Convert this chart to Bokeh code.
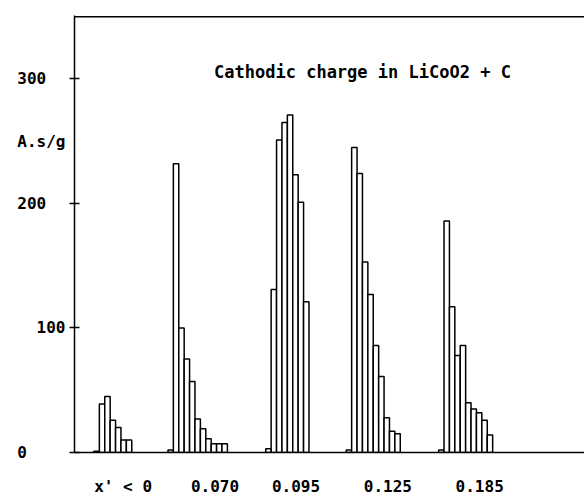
from bokeh.plotting import figure
from bokeh.models import Range1d, FixedTicker, Label, Span, ColumnDataSource, LinearAxis
from bokeh.embed import file_html
from bokeh.resources import INLINE

# ---- data ----
groups = ["x' < 0", "0.070", "0.095", "0.125", "0.185"]
charge_g1 = [1, 39, 45, 26, 20, 10, 10]
charge_g2 = [2, 232, 100, 75, 57, 27, 19, 11, 7, 7, 7]
charge_g3 = [3, 131, 251, 265, 271, 223, 201, 121]
charge_g4 = [2, 245, 224, 153, 127, 86, 61, 28, 17, 15]
charge_g5 = [2, 186, 117, 78, 86, 40, 35, 32, 26, 14]
y_ticks = [0, 100, 200, 300]
title_text = "Cathodic charge in LiCoO2 + C"
unit_text = "A.s/g"
unit_level = 250

# ---- layout (slot units: one bar = 1) ----
group_start = [3.6, 17.3, 35.4, 50.3, 67.4]
label_pos = [9, 26, 41, 58, 75]
NB = "\u00a0"
label_pad = {0: 4, 100: 0, 200: 2, 300: 2}

series = [charge_g1, charge_g2, charge_g3, charge_g4, charge_g5]
xs, tops = [], []
for start, vals in zip(group_start, series):
    for i, v in enumerate(vals):
        xs.append(start + i + 0.5)
        tops.append(v)
src = ColumnDataSource(dict(x=xs, top=tops))

FONT = "DejaVu Sans Mono"

p = figure(width=584, height=498, x_range=Range1d(0, 94.4), y_range=Range1d(0, 351),
           output_backend="svg", toolbar_location=None,
           min_border_left=74, min_border_right=0, min_border_top=15, min_border_bottom=45)
p.grid.visible = False
p.outline_line_color = None
p.background_fill_color = "white"
p.border_fill_color = "white"

p.vbar(x="x", width=1, top="top", bottom=0, source=src,
       fill_color="white", line_color="black", line_width=1.5)

# top border
p.add_layout(Span(location=350, dimension="width", line_color="black", line_width=1.5))

# inner y axis: line and "+" ticks only
ya = p.yaxis[0]
ya.ticker = FixedTicker(ticks=y_ticks)
ya.major_label_overrides = {t: "" for t in y_ticks}
ya.major_label_standoff = 0
ya.major_tick_in = 5
ya.major_tick_out = 5
ya.minor_tick_in = 0
ya.minor_tick_out = 0
ya.axis_line_width = 1.5
ya.major_tick_line_width = 1.5

# outer y axis: the labels only
lab_ticks = y_ticks + [unit_level]
ya2 = LinearAxis(ticker=FixedTicker(ticks=lab_ticks))
overrides = {t: str(t) + NB * label_pad[t] for t in y_ticks}
overrides[unit_level] = unit_text
ya2.major_label_overrides = overrides
ya2.axis_line_color = None
ya2.major_tick_line_color = None
ya2.minor_tick_line_color = None
ya2.major_tick_in = 0
ya2.major_tick_out = 0
ya2.minor_tick_in = 0
ya2.minor_tick_out = 0
ya2.major_label_standoff = 4
ya2.major_label_text_font = FONT
ya2.major_label_text_font_style = "bold"
ya2.major_label_text_font_size = "16px"
ya2.major_label_text_color = "black"
p.add_layout(ya2, "left")

# x axis
xa = p.xaxis[0]
xa.ticker = FixedTicker(ticks=label_pos)
xa.major_label_overrides = {pos: g for pos, g in zip(label_pos, groups)}
xa.major_tick_in = 0
xa.major_tick_out = 0
xa.minor_tick_in = 0
xa.minor_tick_out = 0
xa.axis_line_width = 1.5
xa.major_label_standoff = 24
xa.major_label_text_font = FONT
xa.major_label_text_font_style = "bold"
xa.major_label_text_font_size = "16px"
xa.major_label_text_color = "black"

p.add_layout(Label(x=53.3, y=306, text=title_text, text_align="center",
                   text_baseline="middle", text_font=FONT, text_font_style="bold",
                   text_font_size="17px", text_color="black"))

open("out.html", "w").write(file_html(p, INLINE))
